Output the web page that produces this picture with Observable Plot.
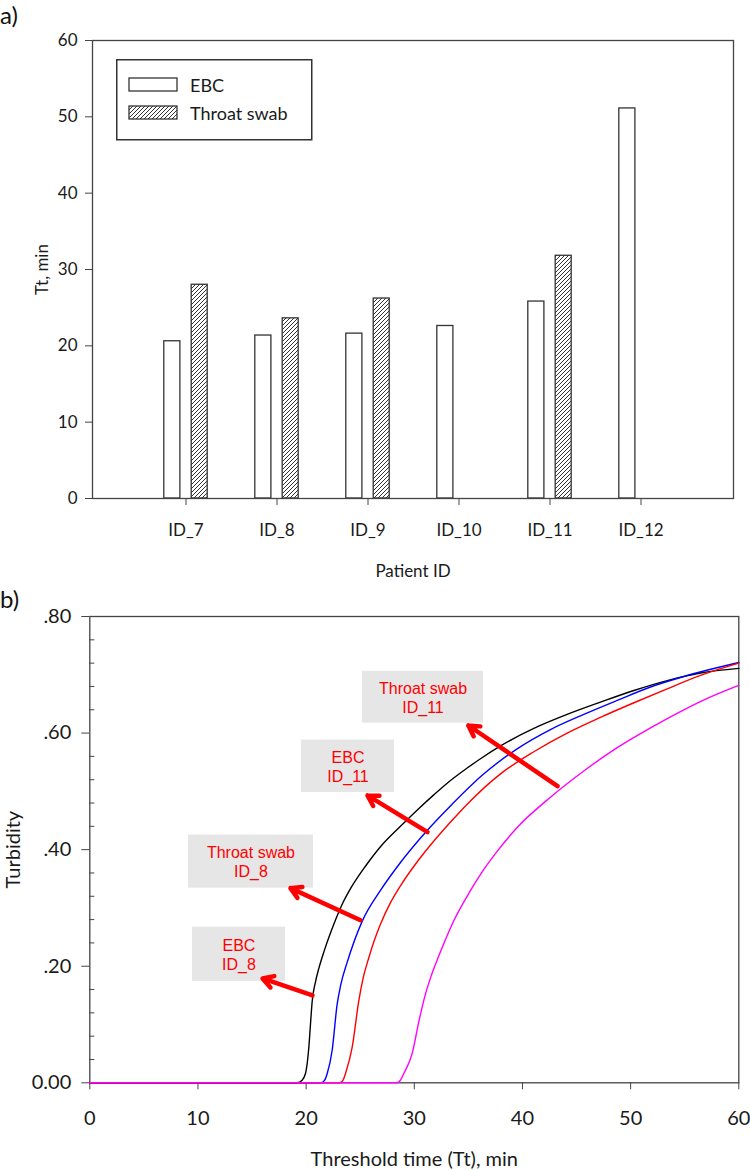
<!DOCTYPE html>
<html><head><meta charset="utf-8">
<script src="https://cdn.jsdelivr.net/npm/d3@7"></script>
<script src="https://cdn.jsdelivr.net/npm/@observablehq/plot@0.6"></script>
<style>
html,body{margin:0;padding:0;background:#fff;}
#wrap{position:relative;width:750px;height:1170px;overflow:hidden;font-family:Lato,sans-serif;color:#1a1a1a;}
.panel{position:absolute;left:0;}
.tag{position:absolute;left:0px;font-size:24px;line-height:1;font-family:Lato,sans-serif;color:#111;}
#legend{position:absolute;left:116px;top:59px;}
</style></head><body>
<svg width="0" height="0" style="position:absolute">
  <defs>
    <pattern id="hatch" patternUnits="userSpaceOnUse" width="4" height="4">
      <rect width="4" height="4" fill="#fff"/>
      <path d="M-1,1 l2,-2 M0,4 l4,-4 M3,5 l2,-2" stroke="#333" stroke-width="1"/>
    </pattern>
  </defs>
</svg>
<div id="wrap">
  <div id="chartA" class="panel" style="top:0"></div>
  <div id="legend"></div>
  <div id="chartB" class="panel" style="top:585px"></div>
  <div class="tag" style="top:3px">a)</div>
  <div class="tag" style="top:587px">b)</div>
</div>
<script>
// ---------- Panel a) data ----------
const patients = ["ID_7", "ID_8", "ID_9", "ID_10", "ID_11", "ID_12"];
const ebcTt = [20.6, 21.35, 21.6, 22.6, 25.8, 51.1];
const swabTt = [28.0, 23.6, 26.2, null, 31.8, null];
const seriesNames = ["EBC", "Throat swab"];
const ttTicks = [0, 10, 20, 30, 40, 50, 60];

// ---------- Panel b) data: [time (min), turbidity] ----------
const curveEbcId8 = [[0,0],[19.2,0],[19.6,0.004],[19.94,0.016],[20.25,0.061],[20.4,0.10],[20.56,0.140],[20.85,0.172],[21.2,0.198],[21.7,0.228],[22.56,0.272],[23.3,0.305],[24.1,0.333],[25.5,0.372],[26.87,0.405],[28.72,0.440],[30.5,0.472],[31.8,0.494],[33.04,0.514],[34.89,0.540],[36.12,0.556],[37.97,0.578],[41.05,0.608],[44.13,0.632],[47.21,0.653],[50.3,0.673],[53.38,0.690],[56.46,0.703],[60,0.711]];
const curveSwabId8 = [[0,0],[21.4,0],[21.7,0.004],[21.95,0.016],[22.4,0.055],[22.87,0.135],[23.2,0.168],[23.8,0.207],[25.18,0.277],[26.87,0.330],[28.72,0.378],[31.19,0.433],[33.5,0.478],[36.3,0.528],[39.51,0.573],[42.59,0.606],[45.67,0.632],[48.76,0.656],[51.84,0.679],[54.92,0.697],[60,0.721]];
const curveEbcId11 = [[0,0],[23.1,0],[23.4,0.004],[23.64,0.016],[24.26,0.061],[24.87,0.141],[25.3,0.182],[25.8,0.215],[26.3,0.244],[26.87,0.272],[27.8,0.309],[28.72,0.338],[30.1,0.375],[31.5,0.408],[33.97,0.460],[34.89,0.478],[37.97,0.530],[41.05,0.568],[44.13,0.600],[47.21,0.627],[50.3,0.652],[53.38,0.676],[56.46,0.699],[60,0.720]];
const curveSwabId11 = [[0,0],[28.4,0],[28.7,0.004],[29.03,0.016],[29.8,0.05],[30.42,0.105],[31.0,0.15],[31.5,0.18],[32.1,0.21],[32.8,0.242],[33.65,0.278],[35.2,0.330],[36.43,0.366],[37.66,0.397],[39.51,0.438],[42.59,0.490],[45.67,0.535],[48.76,0.575],[51.84,0.609],[54.92,0.640],[57.5,0.663],[60,0.682]];
const curveColors = ["#000000", "#0000ff", "#ff0000", "#ff00ff"];
const timeTicks = [0, 10, 20, 30, 40, 50, 60];
const turbTicks = [0, 0.2, 0.4, 0.6, 0.8];

// annotations (data space): label, box [t1, t2, v1, v2], arrow [tTail, vTail, tHead, vHead]
const noteLabels = ["Throat swab\nID_11", "EBC\nID_11", "Throat swab\nID_8", "EBC\nID_8"];
const noteBoxes = [[25.21, 36.40, 0.617, 0.706], [19.57, 28.17, 0.498, 0.588], [9.12, 20.68, 0.334, 0.425], [9.49, 18.09, 0.174, 0.267]];
const noteArrows = [[43.24, 0.509, 35.0, 0.613], [31.22, 0.430, 25.67, 0.493], [25.03, 0.279, 18.55, 0.334], [20.59, 0.150, 15.97, 0.179]];

// ---------- Panel a) ----------
const rowsA = patients.map((p, i) => ({patient: p, ebc: ebcTt[i], swab: swabTt[i]}));
const barStroke = "#333";
const chartA = Plot.plot({
  width: 750, height: 585,
  marginTop: 40, marginBottom: 87, marginLeft: 92, marginRight: 17,
  style: {fontFamily: "Lato, sans-serif", fontSize: "17px", color: "#1a1a1a", background: "transparent"},
  x: {type: "band", domain: patients, paddingInner: 0, paddingOuter: 0.5},
  y: {domain: [0, 60]},
  marks: [
    Plot.barY(rowsA, {x: "patient", y: "ebc", fill: "white", stroke: barStroke, strokeWidth: 1.3, insetLeft: 23.8, insetRight: 51.1}),
    Plot.barY(rowsA.filter(d => d.swab != null), {x: "patient", y: "swab", fill: "url(#hatch)", stroke: barStroke, strokeWidth: 1.3, insetLeft: 51.2, insetRight: 23.8}),
    Plot.frame({stroke: "#444", strokeWidth: 1.3}),
    Plot.axisY({ticks: ttTicks, tickSize: 7, tickPadding: 8, label: "Tt, min", labelAnchor: "center", labelArrow: "none", labelOffset: 57, stroke: "#444"}),
    Plot.axisX({tickSize: 7, tickPadding: 18, label: "Patient ID", labelAnchor: "center", labelArrow: "none", labelOffset: 78, stroke: "#444"})
  ]
});
document.getElementById("chartA").appendChild(chartA);

// legend (inside plot area, top-left)
(function () {
  const svg = d3.select("#legend").append("svg").attr("width", 200).attr("height", 84);
  svg.append("rect").attr("x", 0.75).attr("y", 0.75).attr("width", 195).attr("height", 80)
    .attr("fill", "white").attr("stroke", "#333").attr("stroke-width", 1.5);
  const fills = ["white", "url(#hatch)"];
  seriesNames.forEach((name, i) => {
    const y0 = 19 + i * 28;
    svg.append("rect").attr("x", 13).attr("y", y0).attr("width", 48).attr("height", 13)
      .attr("fill", fills[i]).attr("stroke", "#333").attr("stroke-width", 1.3);
    svg.append("text").attr("x", 74).attr("y", y0 + 13.5).attr("font-family", "Lato, sans-serif")
      .attr("font-size", 18).attr("fill", "#1a1a1a").text(name);
  });
})();

// ---------- Panel b) ----------
const curves = [curveEbcId8, curveSwabId8, curveEbcId11, curveSwabId11];
const notes = noteLabels.map((label, i) => ({
  label,
  t1: noteBoxes[i][0], t2: noteBoxes[i][1], v1: noteBoxes[i][2], v2: noteBoxes[i][3],
  ax1: noteArrows[i][0], ay1: noteArrows[i][1], ax2: noteArrows[i][2], ay2: noteArrows[i][3]
}));
const minorTicks = d3.range(1, 20).filter(i => i % 5 !== 0).map(i => i * 0.04);
const fmtTurb = d => d === 0 ? "0.00" : d3.format(".2f")(d).replace(/^0/, "");

const chartB = Plot.plot({
  width: 750, height: 585,
  marginTop: 31, marginBottom: 87.7, marginLeft: 89.3, marginRight: 11.7,
  style: {fontFamily: "Lato, sans-serif", fontSize: "20px", color: "#1a1a1a", background: "transparent"},
  x: {domain: [0, 60]},
  y: {domain: [0, 0.8]},
  marks: [
    Plot.frame({stroke: "#444", strokeWidth: 1.3}),
    Plot.axisY({ticks: turbTicks, tickFormat: fmtTurb, tickSize: 8, tickPadding: 10.5, label: "Turbidity", labelAnchor: "center", labelArrow: "none", labelOffset: 84, stroke: "#444"}),
    Plot.axisY({ticks: minorTicks, tickFormat: () => "", tickSize: -5, label: null, stroke: "#444"}),
    Plot.axisX({ticks: timeTicks, tickSize: 7, tickPadding: 20.5, label: "Threshold time (Tt), min", labelAnchor: "center", labelArrow: "none", labelOffset: 82.7, stroke: "#444"}),
    ...curves.map((c, i) => Plot.line(c, {x: d => d[0], y: d => d[1], stroke: curveColors[i], strokeWidth: 1.4, curve: "monotone-x"})),
    Plot.rect(notes, {x1: "t1", x2: "t2", y1: "v1", y2: "v2", fill: "#e6e6e6"}),
    Plot.text(notes, {x: d => (d.t1 + d.t2) / 2, y: d => (d.v1 + d.v2) / 2, text: "label", fill: "#ff0000", fontFamily: "Liberation Sans, Arial, sans-serif", fontSize: 16, lineHeight: 1.19, lineAnchor: "middle"}),
    Plot.arrow(notes, {x1: "ax1", y1: "ay1", x2: "ax2", y2: "ay2", stroke: "#ff0000", strokeWidth: 4.5, headLength: 4, headAngle: 60, bend: 0})
  ]
});
document.getElementById("chartB").appendChild(chartB);
</script>
</body></html>
